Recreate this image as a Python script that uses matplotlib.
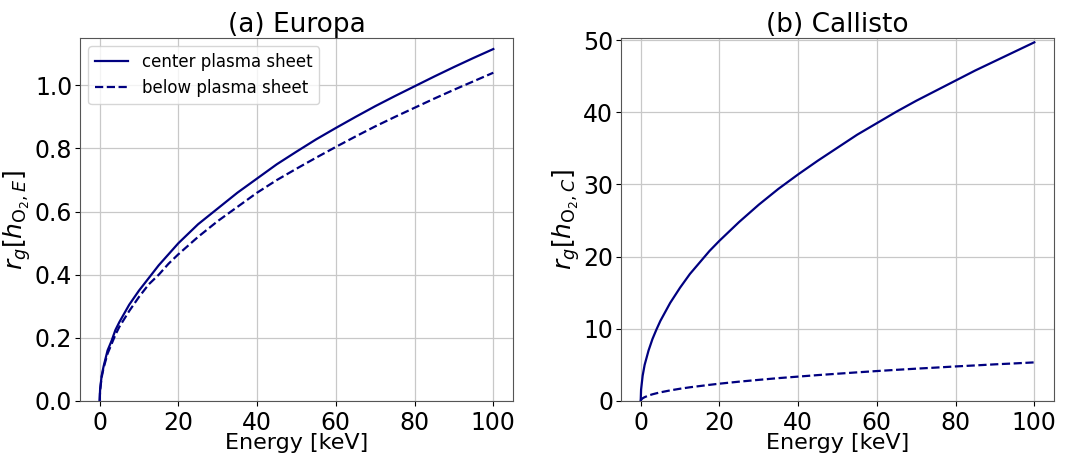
import numpy as np
import matplotlib
matplotlib.use('Agg')
import matplotlib.pyplot as plt

energy = [0, 0.1, 0.5, 1, 2, 3, 4, 5, 7.5, 10, 12.5, 15, 17.5, 20, 25, 30, 35, 40,
          45, 50, 55, 60, 65, 70, 75, 80, 85, 90, 95, 100]

# Europa, r_g in units of h_O2,E
europa_center = [0, 0.035, 0.08, 0.11, 0.16, 0.19, 0.225, 0.25, 0.305, 0.35, 0.39,
                 0.43, 0.465, 0.50, 0.56, 0.61, 0.66, 0.705, 0.75, 0.79, 0.829,
                 0.865, 0.900, 0.934, 0.966, 0.997, 1.028, 1.058, 1.087, 1.115]
europa_below = [0, 0.033, 0.075, 0.105, 0.15, 0.18, 0.21, 0.235, 0.285, 0.33, 0.37,
                0.40, 0.435, 0.465, 0.52, 0.57, 0.615, 0.66, 0.70, 0.736, 0.771,
                0.805, 0.838, 0.870, 0.900, 0.929, 0.958, 0.986, 1.013, 1.04]

# Callisto, r_g in units of h_O2,C
callisto_center = [0, 1.57, 3.5, 5.0, 7.0, 8.6, 9.9, 11.1, 13.6, 15.7, 17.6,
                   19.2, 20.8, 22.2, 24.8, 27.2, 29.4, 31.4, 33.3, 35.1, 36.9,
                   38.5, 40.1, 41.6, 43.0, 44.4, 45.8, 47.1, 48.4, 49.7]
callisto_below = [0, 0.17, 0.38, 0.53, 0.76, 0.93, 1.07, 1.2, 1.47, 1.7, 1.9,
                  2.07, 2.24, 2.4, 2.68, 2.93, 3.17, 3.38, 3.59, 3.78, 3.97,
                  4.15, 4.32, 4.48, 4.63, 4.79, 4.93, 5.08, 5.21, 5.35]

titles = ['(a) Europa', '(b) Callisto']
ylabels = [r'$r_g[h_{\mathrm{O}_2,E}]$', r'$r_g[h_{\mathrm{O}_2,C}]$']
ylims = [(0, 1.15), (0, 50.3)]
lineColor = 'navy'

fig = plt.figure(figsize=(10.88, 4.53), dpi=100)
ax1 = fig.add_axes([80/1088, 1-401/453, 433/1088, 363/453])
ax2 = fig.add_axes([621/1088, 1-401/453, 433/1088, 363/453])
axs = [ax1, ax2]

data = [(europa_center, europa_below), (callisto_center, callisto_below)]
for i, ax in enumerate(axs):
    center, below = data[i]
    ax.plot(energy, center, color=lineColor, lw=1.6, label='center plasma sheet')
    ax.plot(energy, below, color=lineColor, lw=1.6, ls='--', label='below plasma sheet')
    ax.set_ylim(*ylims[i])
    ax.set_xticks([0, 20, 40, 60, 80, 100])
    ax.grid(True, color='#c8c8c8', lw=0.9)
    ax.set_axisbelow(True)
    ax.tick_params(labelsize=17)
    ax.tick_params(axis='y', pad=2)
    ax.set_title(titles[i], fontsize=19, pad=3)
    ax.set_xlabel('Energy [keV]', fontsize=16, labelpad=-1)
    ax.set_ylabel(ylabels[i], fontsize=18, labelpad=1)
    for s in ax.spines.values():
        s.set_color('#555555')

ax1.legend(loc='upper left', fontsize=12)

fig.savefig('out.png', dpi=100)
plt.close(fig)
